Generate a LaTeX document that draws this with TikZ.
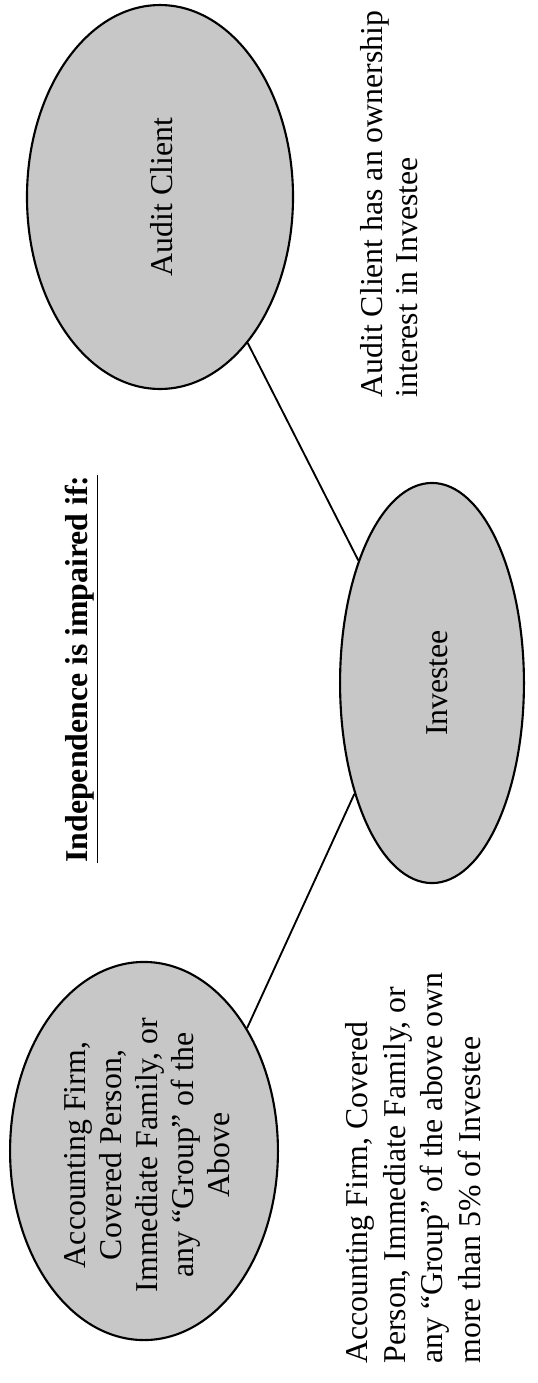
\documentclass[tikz,border=0pt]{standalone}
\usepackage{fontspec}
\setmainfont{Liberation Serif}
\usetikzlibrary{shapes.geometric}
\begin{document}
\begin{tikzpicture}[x=0.3774pt,y=-0.3774pt,
  ell/.style={ellipse,draw=black,line width=0.8pt,fill=black!22,inner sep=0pt},
  txt/.style={rotate=90,inner sep=0pt,font=\fontsize{12}{13.6}\selectfont},
  link/.style={draw=black,line width=0.7pt}]
\useasboundingbox (0,0) rectangle (538,1383);
% ellipses
\node[ell,minimum width=100.4pt,minimum height=144.9pt] (ac) at (160,197) {};
\node[ell,minimum width=69.4pt,minimum height=151pt] (inv) at (432,683) {};
\node[ell,minimum width=101.1pt,minimum height=142.7pt] (af) at (144,1151) {};
% ellipse texts
\node[txt] (actext) at (162,197) {Audit Client};
\node[txt] (invtext) at (437,683) {Investee};
\node[txt,align=center] (aftext) at (147,1155) {Accounting Firm,\\Covered Person,\\Immediate Family, or\\any “Group” of the\\Above};
% title
\node[txt,font=\fontsize{12}{13.6}\selectfont\bfseries] (title) at (82,669) {\underline{Independence is impaired if:}};
% side labels
\node[txt,align=left,font=\fontsize{12}{13.4}\selectfont] (aclabel) at (389,204) {Audit Client has an ownership\\interest in Investee};
\node[txt,align=left,font=\fontsize{12}{14.2}\selectfont] (aflabel) at (413,1168) {Accounting Firm, Covered\\Person, Immediate Family, or\\any “Group” of the above own\\more than 5\% of Investee};
% connectors
\draw[link] (ac.-59.3) -- (inv.121.7);
\draw[link] (inv.235.8) -- (af.50.5);
\end{tikzpicture}
\end{document}
